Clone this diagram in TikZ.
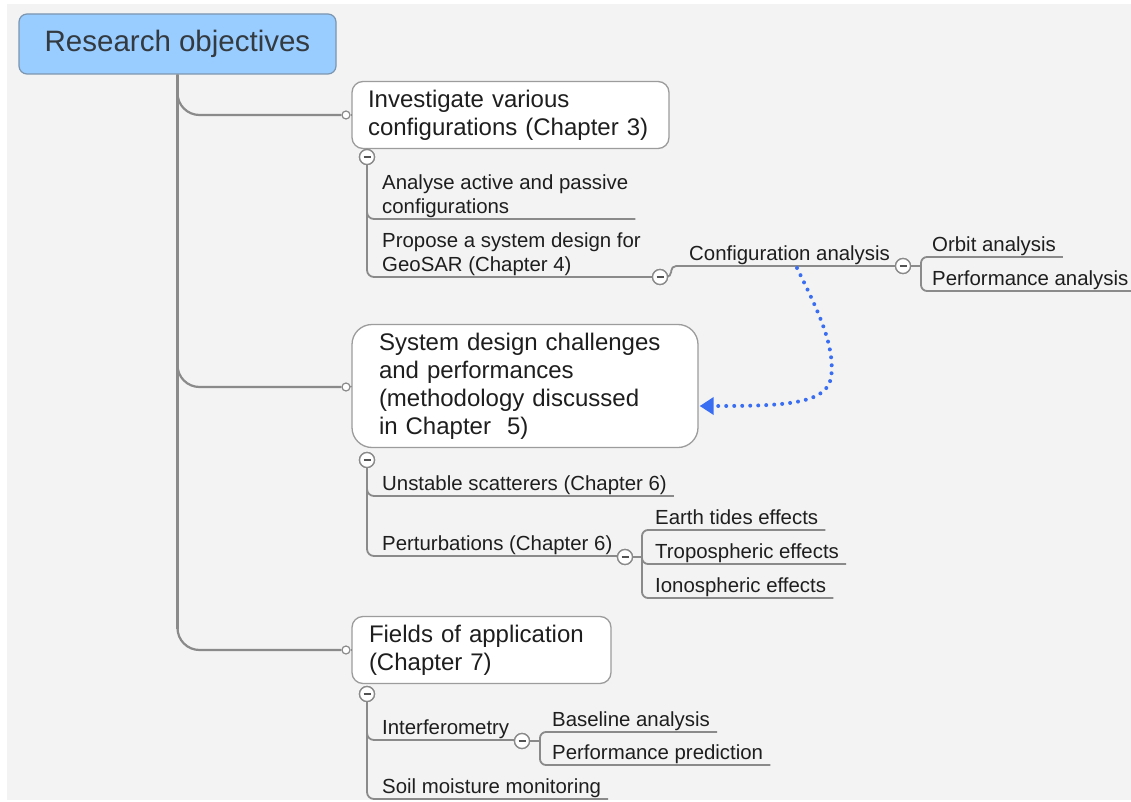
\documentclass[tikz,border=0pt]{standalone}
\usepackage{fontspec}
\setmainfont{Liberation Sans}
\usetikzlibrary{arrows.meta,calc}
\definecolor{bg}{HTML}{F3F3F3}
\definecolor{ln}{HTML}{8A8A8A}
\definecolor{rootfill}{HTML}{99CCFF}
\definecolor{rootline}{HTML}{7C96B0}
\definecolor{txt}{HTML}{1E1E1E}
\definecolor{roottxt}{HTML}{333A40}
\definecolor{dotblue}{HTML}{3A6EF2}
\newcommand\leaffont{\fontsize{20.4}{24}\selectfont}
\newcommand\boxfont{\fontsize{24}{28}\selectfont}
\newcommand\rootfont{\fontsize{29.5}{34}\selectfont}
\begin{document}
\begin{tikzpicture}[x=1pt,y=-1pt,
 conn/.style={draw=ln, line width=1.8pt, rounded corners=7pt},
 trunk/.style={draw=ln, line width=2.2pt, rounded corners=22pt},
 leaf/.style={anchor=south west, inner xsep=7pt, inner ysep=1.5pt, text depth=4pt, font=\leaffont, align=left, text=txt},
 topic/.style={draw=ln!85, line width=1.3pt, fill=white, font=\boxfont, align=left, text=txt},
 minus/.style={circle, draw=ln, line width=1.3pt, fill=white, minimum size=15pt, inner sep=0pt,
   path picture={\draw[line width=1.6pt, ln!60!black] ([xshift=-3.5pt]path picture bounding box.center) -- ([xshift=3.5pt]path picture bounding box.center);}},
 jdot/.style={circle, draw=ln, line width=1.2pt, fill=white, minimum size=8pt, inner sep=0pt},
 dotarrow/.style={draw=dotblue, line width=4pt, line cap=round, dash pattern=on 0pt off 8pt,
   -{Triangle[length=14pt,width=17pt,fill=dotblue]}}]

\useasboundingbox (0,0) rectangle (1131,802);
\fill[bg] (7,4) rectangle (1131,800);

% root
\node[rounded corners=8pt, draw=rootline, line width=1.2pt, fill=rootfill, minimum width=317pt, minimum height=60pt,
      font=\rootfont, text=roottxt, inner sep=0pt] (root) at (177.5,44) {Research objectives};

% topic boxes
\node[topic, rounded corners=11pt, inner xsep=16pt, text width=285pt, minimum height=67pt] (box1) at (510.5,115)
  {Investigate various\\configurations (Chapter 3)};
\node[topic, rounded corners=20pt, inner xsep=27pt, text width=292pt, minimum height=123pt] (box2) at (525,386)
  {System design challenges\\and performances\\(methodology discussed\\in Chapter\ \ 5)};
\node[topic, rounded corners=11pt, inner xsep=17pt, text width=225pt, minimum height=67pt] (box3) at (481.5,650)
  {Fields of application\\(Chapter 7)};

% junction dots
\node[jdot] (b1) at (346,115) {};
\node[jdot] (b2) at (346,387) {};
\node[jdot] (b3) at (346,650) {};

% trunk
\draw[draw=ln, line width=3pt] (root.south) -- ($(root.south)+(0,554)$);
\draw[trunk] (root.south) |- (b1.west);
\draw[trunk] (root.south) |- (b2.west);
\draw[trunk] (root.south) |- (b3.west);
\draw[draw=ln, line width=1.5pt] (b1.east) -- (box1.west);
\draw[draw=ln, line width=1.5pt] (b2.east) -- (box2.west);
\draw[draw=ln, line width=1.5pt] (b3.east) -- (box3.west);

% minus circles
\node[minus] (c1) at (367,157) {};
\node[minus] (c2) at (660,277) {};
\node[minus] (c3) at (903,266) {};
\node[minus] (c4) at (367,460) {};
\node[minus] (c5) at (625,557) {};
\node[minus] (c6) at (367,694) {};
\node[minus] (c7) at (522,741) {};

% leaves
\node[leaf] (la1) at (375,219) {Analyse active and passive\\configurations};
\node[leaf] (la2) at (375,277) {Propose a system design for\\GeoSAR (Chapter 4)};
\node[leaf, inner xsep=9pt] (config) at (680,266) {Configuration analysis};
\node[leaf] (orbit) at (925,257) {Orbit analysis};
\node[leaf] (perf) at (925,291) {Performance analysis};
\node[leaf] (unst) at (375,496) {Unstable scatterers (Chapter 6)};
\node[leaf] (pert) at (375,556) {Perturbations (Chapter 6)};
\node[leaf] (earth) at (648,530) {Earth tides effects};
\node[leaf] (tropo) at (648,564) {Tropospheric effects};
\node[leaf] (iono) at (648,598) {Ionospheric effects};
\node[leaf] (interf) at (375,740) {Interferometry};
\node[leaf] (basel) at (545,732) {Baseline analysis};
\node[leaf] (perfpred) at (545,765) {Performance prediction};
\node[leaf] (soil) at (375,799) {Soil moisture monitoring};

% bracket coordinates
\coordinate (k1) at (921,266);
\coordinate (k2) at (642,557);
\coordinate (k3) at (540,741);

% connectors: chapter 3 branch
\draw[conn] (c1.south) |- (la1.south east);
\draw[conn] (c1.south) |- (la2.south east);
\draw[conn, line width=1.6pt] (la2.south east) -- (c2.west);
\draw[conn, rounded corners=5pt] (c2.east) -- ++(3,0) |- (config.south east);
\draw[conn, line width=1.6pt] (config.south east) -- (c3.west);
\draw[conn] (c3.east) -- (k1);
\draw[conn, rounded corners=6pt] (k1) |- (orbit.south east);
\draw[conn, rounded corners=6pt] (k1) |- (perf.south east);

% chapter 5 branch
\draw[conn] (c4.south) |- (unst.south east);
\draw[conn] (c4.south) |- (pert.south east);
\draw[conn, line width=1.6pt] (pert.south east) -- (c5.west);
\draw[conn] (c5.east) -- (k2);
\draw[conn, rounded corners=6pt] (k2) |- (earth.south east);
\draw[conn, rounded corners=6pt] (k2) |- (tropo.south east);
\draw[conn, rounded corners=6pt] (k2) |- (iono.south east);

% chapter 7 branch
\draw[conn] (c6.south) |- (interf.south east);
\draw[conn] (c6.south) |- (soil.south east);
\draw[conn, line width=1.6pt] (interf.south east) -- (c7.west);
\draw[conn] (c7.east) -- (k3);
\draw[conn, rounded corners=6pt] (k3) |- (basel.south east);
\draw[conn, rounded corners=6pt] (k3) |- (perfpred.south east);

% redraw circles on top
\node[minus] at (c1) {};
\node[minus] at (c2) {};
\node[minus] at (c3) {};
\node[minus] at (c4) {};
\node[minus] at (c5) {};
\node[minus] at (c6) {};
\node[minus] at (c7) {};

% dotted relation arrow
\coordinate (ds) at (797,268);
\coordinate (de) at ($(box2.east)+(1,20)$);
\draw[dotarrow] (ds) .. controls (815,305) and (836,345) .. (831,378) .. controls (826,405) and (780,406) .. (de);
\end{tikzpicture}
\end{document}
